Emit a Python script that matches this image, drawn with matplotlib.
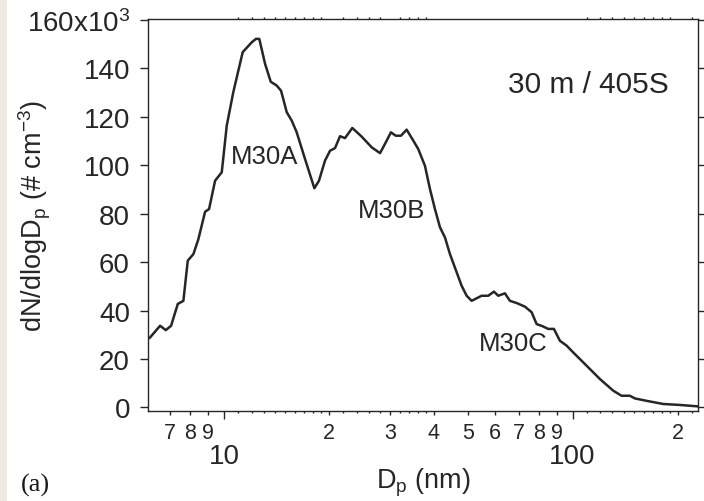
import matplotlib
matplotlib.use("Agg")
import matplotlib.pyplot as plt
from matplotlib.patches import Rectangle
from matplotlib.ticker import FixedLocator, FixedFormatter, NullLocator

plt.rcParams['font.family'] = ['Liberation Sans', 'DejaVu Sans']
plt.rcParams['mathtext.fontset'] = 'custom'
plt.rcParams['mathtext.rm'] = 'Liberation Sans'
plt.rcParams['mathtext.it'] = 'Liberation Sans:italic'

# Particle diameter (nm) and dN/dlogDp (x10^3 cm^-3)
dp = [6.05, 6.135, 6.553, 6.804, 7.047, 7.365, 7.643, 7.868, 8.166, 8.44, 8.822,
      9.057, 9.423, 9.849, 10.18, 10.63, 11.31, 12.01, 12.35, 12.62, 13.11, 13.61,
      14.16, 14.57, 15.13, 15.64, 16.16, 17.07, 18.16, 18.72, 19.48, 20.14, 20.82,
      21.51, 22.23, 23.33, 24.83, 26.52, 28.02, 28.95, 30.12, 31.07, 32.18, 33.41,
      34.90, 36.07, 37.70, 38.97, 40.28, 41.63, 43.03, 44.48, 46.49, 48.05, 49.66,
      51.33, 54.83, 57.28, 59.48, 61.19, 63.95, 66.10, 69.09, 72.99, 76.29, 78.85,
      82.04, 85.11, 88.39, 91.96, 96.12, 100.4, 109.7, 119.8, 130.8, 138.2, 146.0,
      150.9, 163.0, 181.9, 203.2, 229.2]
dndlogdp = [28.3, 28.9, 33.7, 31.9, 33.7, 42.7, 44.0, 60.6, 63.3, 69.5, 80.8,
            81.9, 93.6, 97.1, 116.4, 130.2, 146.7, 150.8, 152.2, 152.2, 141.9, 134.5,
            132.9, 130.8, 121.9, 118.4, 113.6, 102.6, 90.5, 93.6, 101.9, 106.0, 107.1,
            112.0, 111.2, 115.4, 111.8, 107.4, 105.0, 108.8, 113.6, 112.2, 112.2, 114.7,
            110.2, 106.7, 99.8, 90.2, 81.9, 74.4, 70.2, 63.3, 55.8, 50.2, 46.1,
            44.0, 46.1, 46.1, 47.8, 46.1, 47.1, 44.0, 43.1, 41.6, 39.3, 34.4,
            33.5, 32.4, 32.4, 27.5, 25.5, 22.7, 17.2, 11.7, 6.9, 4.8, 4.8,
            3.7, 2.7, 1.4, 1.0, 0.4]

y_ticks = [0, 20, 40, 60, 80, 100, 120, 140, 160]
y_ticklabels = ['0', '20', '40', '60', '80', '100', '120', '140', '160x10$^3$']
x_major = [10, 100]
x_major_labels = ['10', '100']
x_minor = [7, 8, 9, 20, 30, 40, 50, 60, 70, 80, 90, 200]
x_minor_labels = ['7', '8', '9', '2', '3', '4', '5', '6', '7', '8', '9', '2']
x_tiny = [11, 12, 13, 14, 15, 16, 17, 18, 19, 22, 24, 26, 28, 32, 34, 36, 38,
          110, 120, 130, 140, 150, 160, 170, 180, 190, 220]

mode_labels = ['M30A', 'M30B', 'M30C']
mode_pos = [(13.1, 104), (30.3, 81.5), (67.4, 26.6)]

dark = '#262626'
fig = plt.figure(figsize=(7.04, 5.02), dpi=100)
fig.patches.append(Rectangle((0, 0), 7 / 704, 1, transform=fig.transFigure,
                             facecolor='#eeebe3', edgecolor='none'))
ax = fig.add_axes([148 / 704, 90 / 502, 550 / 704, 392 / 502])
ax.plot(dp, dndlogdp, color='#262626', lw=1.8)
ax.set_xscale('log')
ax.set_xlim(6.05, 229)
ax.set_ylim(-1.5, 160.4)

for s in ax.spines.values():
    s.set_color(dark)
    s.set_linewidth(1.0)

ax.xaxis.set_major_locator(FixedLocator(x_major))
ax.xaxis.set_major_formatter(FixedFormatter(x_major_labels))
ax.xaxis.set_minor_locator(FixedLocator(x_minor))
ax.xaxis.set_minor_formatter(FixedFormatter(x_minor_labels))
ax.yaxis.set_major_locator(FixedLocator(y_ticks))
ax.yaxis.set_major_formatter(FixedFormatter(y_ticklabels))
ax.yaxis.set_minor_locator(NullLocator())

ax.tick_params(axis='x', which='major', direction='out', length=6, width=1.0,
               top=True, bottom=True, labelsize=20, pad=17, colors=dark)
ax.tick_params(axis='x', which='minor', direction='out', length=3, width=1.0,
               top=True, bottom=True, labelsize=15.5, pad=5, colors=dark)
ax.tick_params(axis='y', which='major', direction='out', length=6, width=1.0,
               left=True, right=True, labelsize=20, pad=7, colors=dark)

ax2 = ax.twiny()
ax2.set_xscale('log')
ax2.set_xlim(ax.get_xlim())
ax2.xaxis.set_major_locator(FixedLocator(x_tiny))
ax2.xaxis.set_minor_locator(NullLocator())
ax2.tick_params(axis='x', which='major', direction='out', length=1.5, width=1.0,
                top=True, bottom=True, labeltop=False, labelbottom=False, colors=dark)
for s in ax2.spines.values():
    s.set_visible(False)
ax2.patch.set_visible(False)

ax.set_ylabel(r'dN/dlogD$_\mathrm{p}$ (# cm$^{-3}$)', fontsize=19.5, color=dark)
ax.yaxis.set_label_coords(-0.172, 0.5)
ax.set_xlabel(r'D$_\mathrm{p}$ (nm)', fontsize=19.5, color=dark)
ax.xaxis.set_label_coords(0.5, -0.14)

ax.text(0.80, 0.835, '30 m / 405S', transform=ax.transAxes, fontsize=21.5,
        ha='center', va='center', color=dark)
for lab, (xv, yv) in zip(mode_labels, mode_pos):
    ax.text(xv, yv, lab, fontsize=18.5, ha='center', va='center', color=dark)

fig.text(35 / 704, 1 - 485 / 502, '(a)', fontsize=19, family=['Liberation Serif', 'DejaVu Serif'],
         ha='center', va='center', color='#1a1a1a')

fig.savefig('out.png', dpi=100)
